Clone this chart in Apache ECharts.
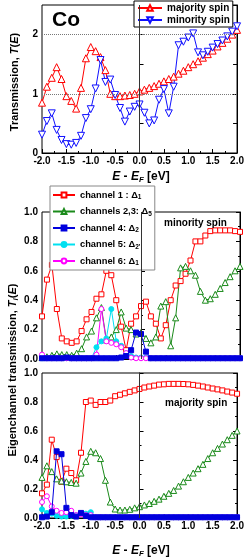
<!DOCTYPE html>
<html><head><meta charset="utf-8">
<script src="https://cdn.jsdelivr.net/npm/echarts@6/dist/echarts.min.js"></script>
<style>html,body{margin:0;padding:0;background:#fff}#c{width:247px;height:557px}</style>
</head><body><div id="c"></div>
<script>
// ---- data ----
const energy = [-2.0,-1.9,-1.8,-1.7,-1.6,-1.5,-1.4,-1.3,-1.2,-1.1,-1.0,-0.9,-0.8,-0.7,-0.6,-0.5,-0.4,-0.3,-0.2,-0.1,0.0,0.1,0.2,0.3,0.4,0.5,0.6,0.7,0.8,0.9,1.0,1.1,1.2,1.3,1.4,1.5,1.6,1.7,1.8,1.9,2.0];
const xTicks = [-2.0,-1.5,-1.0,-0.5,0.0,0.5,1.0,1.5,2.0];

const totalMajority = [0.85,1.12,1.27,1.45,1.25,0.96,0.88,0.75,1.10,1.60,1.79,1.72,1.62,1.40,1.00,0.96,0.96,0.97,0.98,1.00,1.04,1.07,1.10,1.13,1.17,1.21,1.25,1.29,1.34,1.39,1.45,1.50,1.55,1.61,1.67,1.73,1.80,1.86,1.93,2.00,2.08];
const totalMinority = [0.31,0.54,0.67,0.39,0.22,0.15,0.14,0.17,0.29,0.59,0.74,1.09,1.57,1.20,1.24,0.98,0.76,0.53,0.70,0.78,0.82,0.68,0.50,0.55,0.90,1.08,0.67,1.12,1.82,1.88,1.95,2.02,1.70,1.65,1.71,1.78,1.84,1.90,1.97,2.05,2.14];

const minCh1  = [0.29,0.54,0.64,0.34,0.14,0.12,0.11,0.12,0.19,0.27,0.32,0.41,0.44,0.60,0.57,0.40,0.22,0.06,0.24,0.29,0.36,0.39,0.29,0.24,0.14,0.23,0.40,0.50,0.53,0.58,0.67,0.80,0.80,0.84,0.87,0.875,0.875,0.875,0.875,0.87,0.865];
const minCh23 = [0.01,0.015,0.025,0.035,0.03,0.03,0.025,0.04,0.07,0.15,0.19,0.28,0.35,0.13,0.15,0.20,0.32,0.21,0.20,0.17,0.18,0.14,0.11,0.15,0.36,0.39,0.09,0.28,0.62,0.63,0.60,0.57,0.46,0.40,0.41,0.44,0.48,0.52,0.56,0.60,0.63];
const minCh4  = [0.005,0.005,0.005,0.005,0.005,0.01,0.005,0.005,0.005,0.005,0.005,0.005,0.005,0.005,0.005,0.005,0.01,0.02,0.06,0.18,0.17,0.05,0.005,0.005,0.005,0.005,0.005,0.005,0.005,0.005,0.005,0.005,0.005,0.005,0.005,0.005,0.005,0.005,0.005,0.005,0.005];
const minCh5  = [0.005,0.005,0.005,0.005,0.005,0.005,0.005,0.005,0.005,0.005,0.005,0.08,0.12,0.14,0.34,0.12,0.09,0.04,0.02,0.01,0.01,0.01,0.005,0.005,0.005,0.005,0.005,0.005,0.005,0.005,0.005,0.005,0.005,0.005,0.005,0.005,0.005,0.005,0.005,0.005,0.005];
const minCh6  = [0.03,0.005,0.005,0.005,0.005,0.005,0.005,0.005,0.005,0.005,0.005,0.03,0.34,0.12,0.11,0.10,0.08,0.04,0.01,0.005,0.005,0.005,0.005,0.005,0.005,0.005,0.005,0.005,0.005,0.005,0.005,0.005,0.005,0.005,0.005,0.005,0.005,0.005,0.005,0.005,0.005];

const majCh1  = [0.17,0.23,0.54,0.42,0.25,0.34,0.31,0.26,0.45,0.80,0.81,0.78,0.80,0.80,0.81,0.84,0.85,0.86,0.87,0.88,0.89,0.90,0.907,0.913,0.92,0.922,0.925,0.925,0.925,0.924,0.922,0.918,0.913,0.907,0.90,0.893,0.887,0.88,0.872,0.865,0.857];
const majCh23 = [0.28,0.36,0.32,0.27,0.255,0.25,0.245,0.24,0.31,0.39,0.46,0.45,0.41,0.26,0.11,0.062,0.055,0.055,0.06,0.07,0.078,0.09,0.10,0.115,0.13,0.15,0.17,0.19,0.22,0.25,0.28,0.31,0.34,0.37,0.41,0.45,0.48,0.51,0.54,0.57,0.60];
const majCh4  = [0.005,0.01,0.04,0.46,0.44,0.07,0.02,0.01,0.035,0.015,0.005,0.005,0.005,0.005,0.005,0.005,0.005,0.005,0.005,0.005,0.005,0.005,0.005,0.005,0.005,0.005,0.005,0.005,0.005,0.005,0.005,0.005,0.005,0.005,0.005,0.005,0.005,0.005,0.005,0.005,0.005];
const majCh5  = [0.06,0.035,0.03,0.015,0.01,0.01,0.015,0.02,0.025,0.03,0.04,0.005,0.005,0.005,0.005,0.005,0.005,0.005,0.005,0.005,0.005,0.005,0.005,0.005,0.005,0.005,0.005,0.005,0.005,0.005,0.005,0.005,0.005,0.005,0.005,0.005,0.005,0.005,0.005,0.005,0.005];
const majCh6  = [0.11,0.15,0.08,0.05,0.035,0.04,0.05,0.02,0.025,0.02,0.02,0.005,0.005,0.005,0.005,0.005,0.005,0.005,0.005,0.005,0.005,0.005,0.005,0.005,0.005,0.005,0.005,0.005,0.005,0.005,0.005,0.005,0.005,0.005,0.005,0.005,0.005,0.005,0.005,0.005,0.005];

const spinNames = ['majority spin','minority spin'];
const chNames = ['ch1','ch23','ch4','ch5','ch6'];
const chLabels = {
  ch1: '{b|channel 1 : Δ}{s|1}',
  ch23: '{b|channels 2,3: Δ}{s|5}',
  ch4: '{b|channel 4: Δ}{s|2}',
  ch5: "{b|channel 5: Δ}{s|2'}",
  ch6: '{b|channel 6: Δ}{s|1}'
};

// ---- chart ----
const FONT = '"Liberation Sans", Arial, sans-serif';
const RED='#ff0000', BLUE='#1010ff', GREEN='#1a8a1a', DBLUE='#0000dd', CYAN='#00e0f0', MAG='#ff00ff';
const pair = a => energy.map((e,i)=>[e,a[i]]);

const grids = [
  {left:42, right:7, top:5, height:148},
  {left:42, right:7, top:212, height:147},
  {left:42, right:7, top:373, height:145}
].map(g=>Object.assign(g,{show:true, borderColor:'#000', borderWidth:1, backgroundColor:'transparent'}));

const xAxes = [0,1,2].map(i=>({
  type:'value', gridIndex:i, min:-2, max:2, interval:0.5,
  axisLine:{show:true, lineStyle:{color:'#000', width:1}},
  axisTick:{show:true, inside:true, length:4, lineStyle:{color:'#000'}},
  minorTick:{show:true, splitNumber:2, length:2, lineStyle:{color:'#000'}},
  splitLine:{show:false},
  axisLabel:{show:i!==1, color:'#000', fontFamily:FONT, fontWeight:'bold', fontSize:10, margin:3,
    formatter:v=>v.toFixed(1)}
}));

function yAx(i, top, right){
  const isTop = i===0;
  return {
    type:'value', gridIndex:i, min:0, max:isTop?2.5:1, interval:isTop?0.5:0.2,
    position: right?'right':'left',
    axisLine:{show:true, lineStyle:{color:'#000', width:1}},
    axisTick:{show:true, inside:true, length:4, lineStyle:{color:'#000'}},
    minorTick:{show:!isTop, splitNumber:2, length:2, lineStyle:{color:'#000'}},
    splitLine:{show:false},
    axisLabel:{show:!right, color:'#000', fontFamily:FONT, fontWeight:'bold', fontSize:10, margin:4,
      formatter: isTop ? (v=>Number.isInteger(v)?String(v):'') : (v=>v.toFixed(1))}
  };
}
const yAxes = [yAx(0,true,false), yAx(1,false,false), yAx(2,false,false),
               yAx(0,true,true), yAx(1,false,true), yAx(2,false,true)];

const vline = (extra)=>({silent:true, symbol:'none', label:{show:false}, animation:false,
  lineStyle:{color:'#333', type:'solid', width:1}, data:[{xAxis:0}].concat(extra||[])});

function lineSer(name, data, gi, color, symbol, size, open, extra){
  return Object.assign({
    type:'line', name, data:pair(data), xAxisIndex:gi, yAxisIndex:gi,
    symbol, symbolSize:size, showAllSymbol:true,
    lineStyle:{color, width:1},
    itemStyle: open ? {color:'#fff', borderColor:color, borderWidth:1} : {color, borderColor:color, borderWidth:1},
    emphasis:{disabled:true}
  }, extra||{});
}

const dotted = {type:'dotted', color:'#777', width:1};
const series = [
  lineSer('majority spin', totalMajority, 0, RED, 'triangle', 7, true,
    {markLine: vline([{yAxis:1, lineStyle:dotted},{yAxis:2, lineStyle:dotted}])}),
  lineSer('minority spin', totalMinority, 0, BLUE, 'triangle', 7, true, {symbolRotate:180}),

  lineSer('ch1', minCh1, 1, RED, 'rect', 5, true, {markLine: vline()}),
  lineSer('ch23', minCh23, 1, GREEN, 'triangle', 6, true),
  lineSer('ch5', minCh5, 1, CYAN, 'circle', 5, false),
  lineSer('ch6', minCh6, 1, MAG, 'circle', 5, true),
  lineSer('ch4', minCh4, 1, DBLUE, 'rect', 5, false, {z:4}),

  lineSer('ch1', majCh1, 2, RED, 'rect', 5, true, {markLine: vline()}),
  lineSer('ch23', majCh23, 2, GREEN, 'triangle', 6, true),
  lineSer('ch5', majCh5, 2, CYAN, 'circle', 5, false),
  lineSer('ch6', majCh6, 2, MAG, 'circle', 5, true),
  lineSer('ch4', majCh4, 2, DBLUE, 'rect', 5, false, {z:4})
];

const legendText = {color:'#000', fontFamily:FONT, fontWeight:'bold', fontSize:10};
const legends = [
  {data:spinNames, orient:'vertical', left:134, top:1, itemGap:2, itemWidth:24, itemHeight:7,
   padding:[2,3,2,3], borderColor:'#000', borderWidth:1, backgroundColor:'#fff',
   selectedMode:false, textStyle:legendText},
  {data:chNames, orient:'vertical', left:50, top:186, itemGap:4.5, itemWidth:22, itemHeight:6,
   padding:[3,3,3,2], borderColor:'#888', borderWidth:1, backgroundColor:'#fff',
   selectedMode:false, formatter:n=>chLabels[n],
   textStyle:Object.assign({}, legendText, {rich:{
     b:{fontFamily:FONT, fontWeight:'bold', fontSize:9.3, color:'#000', lineHeight:12},
     s:{fontFamily:FONT, fontWeight:'bold', fontSize:6.5, color:'#000', padding:[5,0,0,0], lineHeight:12}
   }})}
];

const richAxis = {
  n:{fontFamily:FONT, fontWeight:'bold', fontSize:11, fill:'#000'},
  i:{fontFamily:FONT, fontWeight:'bold', fontStyle:'italic', fontSize:11, fill:'#000'},
  sub:{fontFamily:FONT, fontWeight:'bold', fontStyle:'italic', fontSize:8, fill:'#000', padding:[5,0,0,0]}
};
const richX = {
  n:{fontFamily:FONT, fontWeight:'bold', fontSize:12, fill:'#000'},
  i:{fontFamily:FONT, fontWeight:'bold', fontStyle:'italic', fontSize:12, fill:'#000'},
  sub:{fontFamily:FONT, fontWeight:'bold', fontStyle:'italic', fontSize:8, fill:'#000', padding:[6,0,0,0]}
};
const xLabel = '{i|E}{n| - }{i|E}{sub|F}{n| [eV]}';

const graphic = [
  {type:'text', left:52, top:10, z:10, style:{text:'Co', font:'bold 21px '+FONT, fill:'#000'}},
  {type:'text', x:141, y:177, z:10, style:{text:xLabel, rich:richX, align:'center', verticalAlign:'middle'}},
  {type:'text', x:141, y:551, z:10, style:{text:xLabel, rich:richX, align:'center', verticalAlign:'middle'}},
  {type:'text', x:15, y:82, rotation:Math.PI/2, z:10,
   style:{text:'{n|Transmission, }{i|T}{n|(}{i|E}{n|)}', rich:richAxis, align:'center', verticalAlign:'middle'}},
  {type:'text', x:13, y:370, rotation:Math.PI/2, z:10,
   style:{text:'{n|Eigenchannel transmission, }{i|T}{sub|i}{n|(}{i|E}{n|)}', rich:richAxis, align:'center', verticalAlign:'middle'}},
  {type:'text', x:164, y:223, z:10, style:{text:'minority spin', font:'bold 10px '+FONT, fill:'#000', verticalAlign:'middle'}},
  {type:'text', x:165, y:403, z:10, style:{text:'majority spin', font:'bold 10px '+FONT, fill:'#000', verticalAlign:'middle'}}
];

const chart = echarts.init(document.getElementById('c'), null, {renderer:'canvas'});
chart.setOption({
  animation:false, backgroundColor:'#fff',
  grid:grids, xAxis:xAxes, yAxis:yAxes, series, legend:legends, graphic
});
</script></body></html>
